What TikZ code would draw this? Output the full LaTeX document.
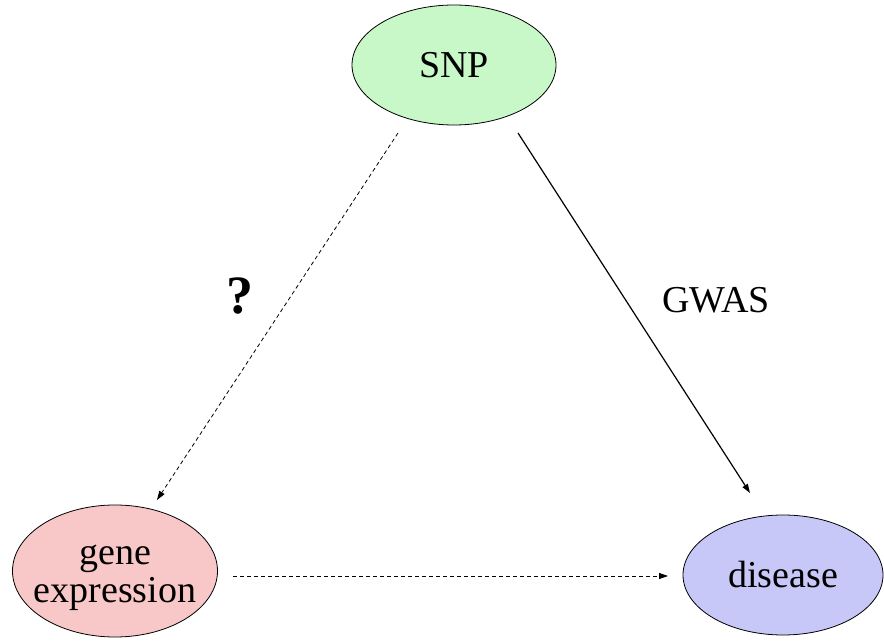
\documentclass[tikz,border=0pt]{standalone}
\usepackage{fontspec}
\setmainfont{Liberation Serif}
\usepackage{tikz}
\usetikzlibrary{arrows.meta,shapes,calc}
\definecolor{snpgreen}{RGB}{200,248,200}
\definecolor{genepink}{RGB}{248,200,200}
\definecolor{dislav}{RGB}{200,200,248}
\tikzset{
  blob/.style={ellipse, draw, line width=0.8pt, inner sep=0pt, align=center,
    font=\fontsize{38}{38}\selectfont},
  tip/.style={-{Triangle[length=9pt,width=6pt]}},
  hint/.style={tip, dashed, dash pattern=on 4pt off 3pt, line width=0.8pt}
}

\begin{document}
\begin{tikzpicture}[x = 1pt, y = 1pt]
\useasboundingbox (0,0) rectangle (884,643);
\node[blob, fill=snpgreen, minimum width=204pt, minimum height=120pt] (snp) at (454, 578) {SNP};
\node[blob, fill=genepink, inner xsep=-16pt, minimum width=205pt, minimum height=132pt] (gene) at (115, 72)
  {\raisebox{-5pt}[\height][\depth]{\begin{tabular}{@{}c@{}}gene\\expression\end{tabular}}};
\node[blob, fill=dislav, minimum width=200pt, minimum height=120pt] (disease) at (783, 68) {disease};

\draw[hint] ([shift={(-56,-68)}]snp.center) -- ([shift={(42,71)}]gene.center);
\draw[tip, line width=1.2pt] ([shift={(64,-68)}]snp.center) -- ([shift={(-33,82)}]disease.center);
\draw[hint] ([shift={(118,-5)}]gene.center) -- ([shift={(-115,-1)}]disease.center);

\node[font=\fontsize{54}{54}\selectfont\bfseries] (ask) at (240, 347) {?};
\node[font=\fontsize{38}{38}\selectfont] (gwas) at (716, 343) {GWAS};

\end{tikzpicture}
\end{document}
